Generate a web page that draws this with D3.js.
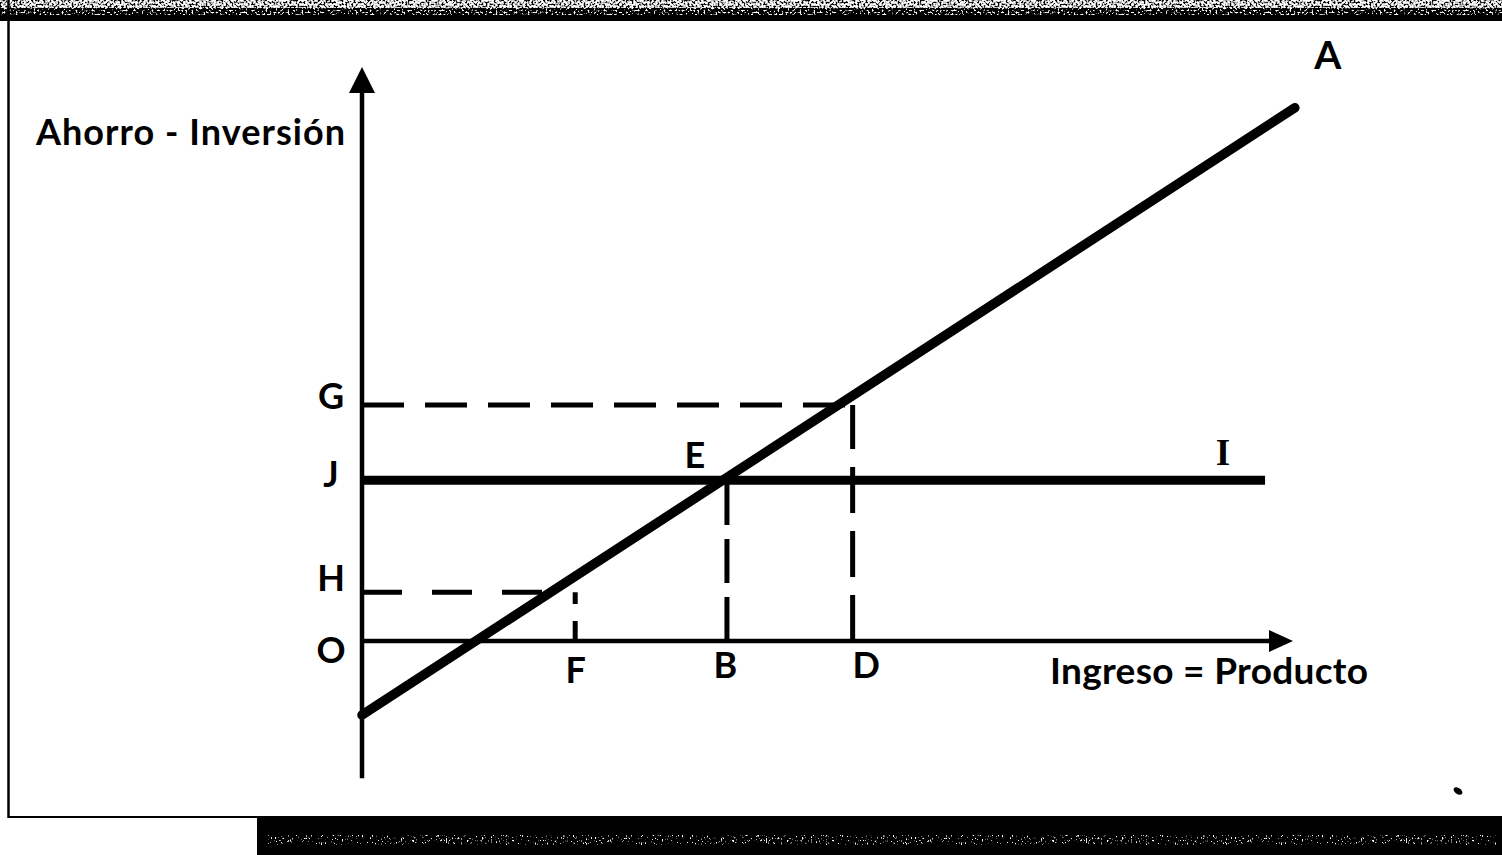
<!DOCTYPE html>
<html>
<head>
<meta charset="utf-8">
<script src="https://cdn.jsdelivr.net/npm/d3@7"></script>
<style>
html, body { margin: 0; padding: 0; background: #fff; }
svg { display: block; }
</style>
</head>
<body>
<svg id="chart" width="1502" height="855"></svg>
<script>
const width = 1502;
const height = 855;
const fontFamily = "Lato, 'Open Sans', sans-serif";

// points on the income axis (Ingreso = Producto)
const xMarks = ["F", "B", "D"];
const xValues = [2.29, 3.92, 5.27];
// levels on the vertical axis (Ahorro - Inversión)
const yMarks = ["G", "J", "H", "O"];
const yValues = [4.11, 2.80, 0.85, 0];
// saving line A
const savingX = [0, 10.02];
const savingY = [-1.29, 9.29];
// investment line I
const investX = [0, 9.70];
const investY = [2.80, 2.80];
// dashed H stops where it hits A
const hDashEnd = 2.05;
const yAxisBottom = -2.39;
const axisTop = 10;

// label nudges (pixels) relative to the tick
const yLabelDy = { G: 3, J: 6, H: -2, O: 21 };
const xLabelDx = { F: 0, B: -2, D: 13 };
const xLabelDy = { F: 42, B: 37, D: 37 };

const svg = d3.select("#chart");
const x = d3.scaleLinear().domain([0, 10]).range([362, 1293]);
const y = d3.scaleLinear().domain([0, 10]).range([641, 67]);

// --- scanned page frame ---
const defs = svg.append("defs");
function noiseFilter(id, freq, seed, rgb, slope, offset) {
    const f = defs.append("filter").attr("id", id)
        .attr("x", 0).attr("y", 0).attr("width", 1).attr("height", 1);
    f.append("feTurbulence").attr("type", "fractalNoise")
        .attr("baseFrequency", freq).attr("numOctaves", 2).attr("seed", seed);
    f.append("feColorMatrix").attr("type", "matrix")
        .attr("values", `0 0 0 0 ${rgb}  0 0 0 0 ${rgb}  0 0 0 0 ${rgb}  ${slope} 0 0 0 ${offset}`);
}
noiseFilter("grainLight", "0.5", 7, 0, 6, -2.8);
noiseFilter("grainDark", "0.5", 11, 0, 6, -1.9);
noiseFilter("speck", "0.8 0.4", 3, 1, 8, -5.0);

svg.append("rect").attr("x", 0).attr("y", 0).attr("width", width).attr("height", 10)
    .attr("filter", "url(#grainLight)");
svg.append("rect").attr("x", 0).attr("y", 8).attr("width", width).attr("height", 9)
    .attr("filter", "url(#grainDark)");
svg.append("rect").attr("x", 0).attr("y", 15).attr("width", width).attr("height", 6)
    .attr("fill", "#000");
svg.append("line").attr("x1", 8.5).attr("x2", 8.5).attr("y1", 0).attr("y2", 818)
    .attr("stroke", "#000").attr("stroke-width", 2.5);
svg.append("line").attr("x1", 8).attr("x2", 260).attr("y1", 817).attr("y2", 817)
    .attr("stroke", "#000").attr("stroke-width", 2);
svg.append("rect").attr("x", 257).attr("y", 816).attr("width", width - 257).attr("height", height - 816)
    .attr("fill", "#000");
svg.append("rect").attr("x", 268).attr("y", 835).attr("width", 1228).attr("height", 10)
    .attr("filter", "url(#speck)");
svg.append("ellipse").attr("cx", 1458).attr("cy", 791).attr("rx", 5).attr("ry", 3)
    .attr("transform", "rotate(35,1458,791)").attr("fill", "#000");

// --- dashed guide lines (verticals drawn from the axis up) ---
const guides = [
    { x1: 0, y1: yValues[0], x2: xValues[2], y2: yValues[0], dash: "42,21" },
    { x1: 0, y1: yValues[2], x2: hDashEnd, y2: yValues[2], dash: "40,30" },
    { x1: xValues[0], y1: 0, x2: xValues[0], y2: yValues[2], dash: "20,17" },
    { x1: xValues[1], y1: 0, x2: xValues[1], y2: yValues[1], dash: "44,14" },
    { x1: xValues[2], y1: 0, x2: xValues[2], y2: yValues[0], dash: "46,18" }
];
svg.append("g").selectAll("line").data(guides).join("line")
    .attr("x1", d => x(d.x1)).attr("y1", d => y(d.y1))
    .attr("x2", d => x(d.x2)).attr("y2", d => y(d.y2))
    .attr("stroke", "#000").attr("stroke-width", 5)
    .attr("stroke-dasharray", d => d.dash);

// --- axes with arrow heads ---
const axisStroke = 4.5;
svg.append("line")
    .attr("x1", x(0)).attr("x2", x(0))
    .attr("y1", y(yAxisBottom)).attr("y2", y(axisTop) + 20)
    .attr("stroke", "#000").attr("stroke-width", axisStroke);
svg.append("path")
    .attr("d", `M${x(0)},${y(axisTop)} L${x(0) - 13},${y(axisTop) + 26} L${x(0) + 13},${y(axisTop) + 26}Z`)
    .attr("fill", "#000");
svg.append("line")
    .attr("x1", x(0)).attr("x2", x(axisTop) - 20)
    .attr("y1", y(0)).attr("y2", y(0))
    .attr("stroke", "#000").attr("stroke-width", axisStroke);
svg.append("path")
    .attr("d", `M${x(axisTop)},${y(0)} L${x(axisTop) - 24},${y(0) - 11} L${x(axisTop) - 24},${y(0) + 11}Z`)
    .attr("fill", "#000");

// --- investment and saving lines ---
const line = d3.line().x(d => x(d[0])).y(d => y(d[1]));
svg.append("path")
    .attr("d", line(d3.zip(investX, investY)))
    .attr("fill", "none").attr("stroke", "#000").attr("stroke-width", 9);
svg.append("path")
    .attr("d", line(d3.zip(savingX, savingY)))
    .attr("fill", "none").attr("stroke", "#000").attr("stroke-width", 9.5)
    .attr("stroke-linecap", "round");

// --- letter labels as tick labels ---
const yAxis = svg.append("g")
    .attr("transform", `translate(${x(0)},0)`)
    .call(d3.axisLeft(y).tickValues(yValues).tickFormat((d, i) => yMarks[i]).tickSize(0));
yAxis.select(".domain").remove();
yAxis.selectAll("text")
    .attr("x", -31).attr("dy", null)
    .attr("y", (d, i) => yLabelDy[yMarks[i]])
    .attr("text-anchor", "middle");

const xAxis = svg.append("g")
    .attr("transform", `translate(0,${y(0)})`)
    .call(d3.axisBottom(x).tickValues(xValues).tickFormat((d, i) => xMarks[i]).tickSize(0));
xAxis.select(".domain").remove();
xAxis.selectAll("text")
    .attr("dy", null)
    .attr("x", (d, i) => xLabelDx[xMarks[i]])
    .attr("y", (d, i) => xLabelDy[xMarks[i]]);

svg.selectAll(".tick text")
    .attr("font-family", fontFamily).attr("font-weight", 700)
    .attr("font-size", 36).attr("fill", "#000");

// --- other letters and axis titles ---
const labels = svg.append("g")
    .attr("font-family", fontFamily).attr("font-weight", 700).attr("fill", "#000");
labels.append("text")
    .attr("x", x(xValues[1]) - 32).attr("y", y(investY[0]) - 12)
    .attr("text-anchor", "middle").attr("font-size", 36).text("E");
labels.append("text")
    .attr("x", x(savingX[1]) + 33).attr("y", 69)
    .attr("text-anchor", "middle").attr("font-size", 39).text("A");
labels.append("text")
    .attr("x", x(investX[1]) - 42).attr("y", y(investY[1]) - 15)
    .attr("text-anchor", "middle").attr("font-size", 37)
    .attr("font-family", "'Liberation Serif', serif").text("I");
labels.append("text")
    .attr("x", 36).attr("y", 145)
    .attr("font-size", 36).attr("textLength", 309).attr("lengthAdjust", "spacing")
    .text("Ahorro - Inversión");
labels.append("text")
    .attr("x", 1050).attr("y", 684)
    .attr("font-size", 37).attr("textLength", 318).attr("lengthAdjust", "spacing")
    .text("Ingreso = Producto");
</script>
</body>
</html>
